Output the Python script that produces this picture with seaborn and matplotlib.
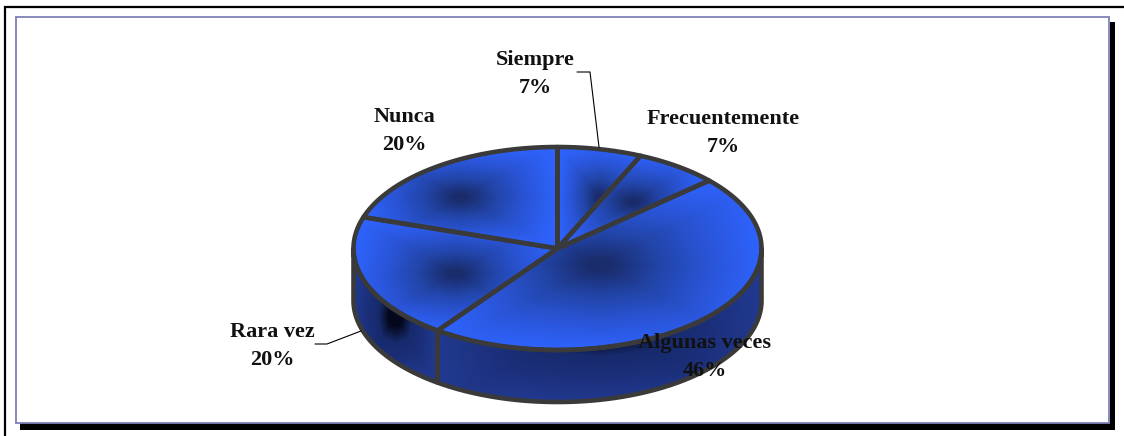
import numpy as np
import matplotlib
matplotlib.use("Agg")
import matplotlib.pyplot as plt
from matplotlib.patches import Polygon, Rectangle
import seaborn as sns

categories = ["Siempre", "Frecuentemente", "Algunas veces", "Rara vez", "Nunca"]
values = [1, 1, 7, 3, 3]
pct_labels = ["7%", "7%", "46%", "20%", "20%"]

W, H = 1124, 436
CX, CY, RX, RY, DEPTH = 557.5, 248.5, 204.0, 101.5, 52.0
EDGE = "#3a3a3a"
LW = 3.3

label_pos = {"Siempre": (535, 74), "Frecuentemente": (723, 133), "Algunas veces": (705, 357),
             "Rara vez": (272, 346), "Nunca": (404, 131)}
leaders = {"Siempre": ([577, 590, 599], [72, 72, 147]),
           "Rara vez": ([315, 327, 361], [344, 344, 331])}

sns.set_theme(style="white")
top_cmap = sns.blend_palette(["#2e64ff", "#2a55d8", "#2245a8", "#1a2c6b"], as_cmap=True)
side_cmap = sns.blend_palette(["#21398f", "#1b2f7a", "#172a6c", "#05081c"], as_cmap=True)

fig = plt.figure(figsize=(W / 100, H / 100), dpi=100, facecolor="white")
ax = fig.add_axes([0, 0, 1, 1])
ax.set_axis_off()

# frame
ax.add_patch(Rectangle((1110, 22), 4.5, 408, fc="black", ec="none", zorder=1))
ax.add_patch(Rectangle((20, 423), 1094, 6.5, fc="black", ec="none", zorder=1))
ax.add_patch(Rectangle((16, 17.5), 1093, 405, fc="white", ec="#7f7fb8", lw=1.3, zorder=2))
ax.plot([5, 5, W], [H, 7, 7], color="black", lw=1.6, solid_joinstyle="miter", zorder=2)

xx, yy = np.meshgrid(np.arange(W) + 0.5, np.arange(H) + 0.5)


def arc(t1, t2, dy=0.0):
    t = np.radians(np.linspace(t1, t2, max(int(abs(t2 - t1)) * 2, 2)))
    return np.column_stack([CX + RX * np.sin(t), CY + dy - RY * np.cos(t)])


def shaded(poly, cmap, gain, gamma):
    x0, y0 = poly.min(axis=0)
    x1, y1 = poly.max(axis=0)
    dx = np.clip(1 - np.abs(xx - (x0 + x1) / 2) / ((x1 - x0) / 2), 0, 1)
    dy = np.clip(1 - np.abs(yy - (y0 + y1) / 2) / ((y1 - y0) / 2), 0, 1)
    base = 0.5 * np.minimum(dx, dy) + 0.5 * np.sqrt(dx * dy)
    t = np.clip(base * gain, 0, 1) ** gamma
    im = ax.imshow(t, cmap=cmap, vmin=0, vmax=1, extent=(0, W, H, 0), aspect="auto",
                   interpolation="bilinear", zorder=3)
    patch = Polygon(poly, closed=True, fc="none", ec=EDGE, lw=LW, joinstyle="round", zorder=4)
    ax.add_patch(patch)
    im.set_clip_path(patch)


fractions = np.array(values, dtype=float) / sum(values)
ends = np.cumsum(fractions) * 360
starts = ends - fractions * 360

# side walls (front half only)
for s, e in zip(starts, ends):
    a, b = max(s, 90), min(e, 270)
    if b > a:
        poly = np.vstack([arc(a, b), arc(b, a, DEPTH)])
        shaded(poly, side_cmap, 1.15, 1.6)

# top faces
for s, e in zip(starts, ends):
    poly = np.vstack([[CX, CY], arc(s, e)])
    shaded(poly, top_cmap, 1.05, 1.35)

for name, (lx, ly) in leaders.items():
    ax.plot(lx, ly, color="black", lw=0.8, zorder=5)

for name, pct in zip(categories, pct_labels):
    x, y = label_pos[name]
    ax.text(x, y, f"{name}\n{pct}", ha="center", va="center", fontsize=16, fontweight="bold",
            family="Liberation Serif", color="#111111", linespacing=1.5, zorder=6)

ax.set_xlim(0, W)
ax.set_ylim(H, 0)
fig.savefig("out.png", dpi=100)
